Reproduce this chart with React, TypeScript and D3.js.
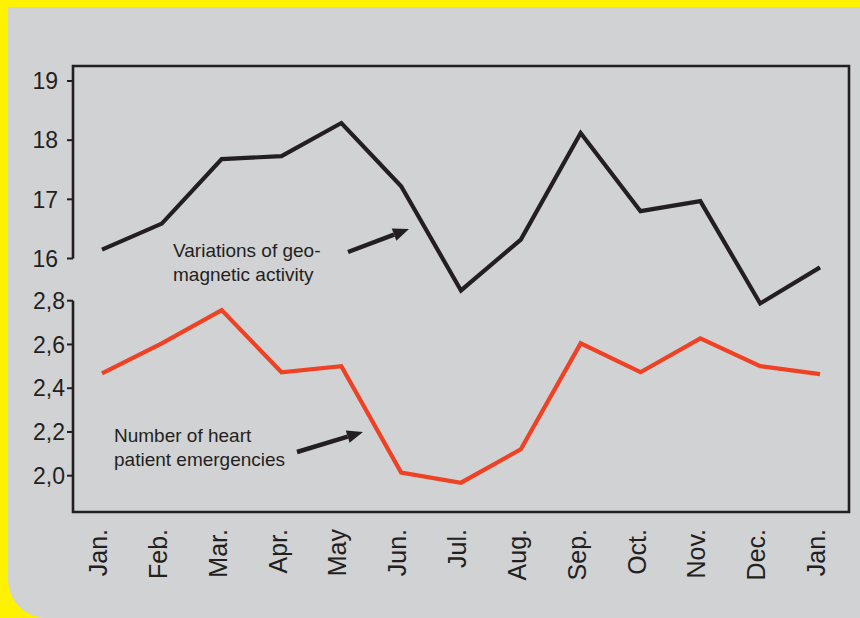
import React, { useEffect, useRef } from "react";
import * as d3 from "d3";

// Month labels along the x axis
const months = ["Jan.", "Feb.", "Mar.", "Apr.", "May", "Jun.", "Jul.", "Aug.", "Sep.", "Oct.", "Nov.", "Dec.", "Jan."];

// Geomagnetic activity (upper panel)
const geoActivity = [16.15, 16.59, 17.68, 17.73, 18.29, 17.22, 15.46, 16.32, 18.12, 16.8, 16.97, 15.24, 15.85];

// Heart patient emergencies (lower panel)
const emergencies = [2.468, 2.605, 2.757, 2.473, 2.501, 2.014, 1.968, 2.121, 2.605, 2.473, 2.628, 2.501, 2.464];

const upperTicks = [19, 18, 17, 16];
const lowerTicks = [2.8, 2.6, 2.4, 2.2, 2.0];

const FONT = "'Liberation Sans', Arial, Helvetica, sans-serif";
const INK = "#231f20";
const RED = "#ef4123";

const App = () => {
  const svgRef = useRef<SVGSVGElement>(null);

  useEffect(() => {
    const W = 860;
    const H = 618;
    const svg = d3.select(svgRef.current).attr("width", W).attr("height", H);
    svg.selectAll("*").remove();

    // Background: yellow frame with grey panel, rounded bottom-left corner
    svg.append("rect").attr("width", W).attr("height", H).attr("fill", "#fff200");
    const r = 38;
    svg
      .append("path")
      .attr("d", `M8,7 H${W} V${H} H${8 + r} A${r},${r} 0 0 1 8,${H - r} Z`)
      .attr("fill", "#d1d2d4");

    const frame = { left: 73, right: 849, top: 66, bottom: 512 };

    // Scales
    const x = d3.scaleLinear().domain([0, months.length - 1]).range([102, 820]);
    const yTop = d3.scaleLinear().domain([16, 19]).range([258.5, 81]);
    const yBottom = d3.scaleLinear().domain([2.0, 2.8]).range([475.7, 300.7]);

    // Frame: top, right, bottom and split left axis
    svg
      .append("path")
      .attr(
        "d",
        `M${frame.left},${yTop(16)} V${frame.top} H${frame.right} V${frame.bottom} H${frame.left} V${yBottom(2.8)}`
      )
      .attr("fill", "none")
      .attr("stroke", INK)
      .attr("stroke-width", 2.6)
      .attr("stroke-linejoin", "miter");

    // Upper axis ticks and labels
    const upper = svg.append("g");
    upper
      .selectAll("line")
      .data(upperTicks)
      .join("line")
      .attr("x1", frame.left - 6)
      .attr("x2", frame.left)
      .attr("y1", (d) => yTop(d))
      .attr("y2", (d) => yTop(d))
      .attr("stroke", INK)
      .attr("stroke-width", 2);
    upper
      .selectAll("text")
      .data(upperTicks)
      .join("text")
      .attr("x", frame.left - 15)
      .attr("y", (d) => yTop(d))
      .attr("dy", "0.36em")
      .attr("text-anchor", "end")
      .style("font-family", FONT)
      .style("font-size", "23px")
      .attr("fill", INK)
      .text((d) => String(d));

    // Lower axis ticks and labels
    const lower = svg.append("g");
    lower
      .selectAll("line")
      .data(lowerTicks)
      .join("line")
      .attr("x1", frame.left - 6)
      .attr("x2", frame.left)
      .attr("y1", (d) => yBottom(d))
      .attr("y2", (d) => yBottom(d))
      .attr("stroke", INK)
      .attr("stroke-width", 2);
    lower
      .selectAll("text")
      .data(lowerTicks)
      .join("text")
      .attr("x", frame.left - 8)
      .attr("y", (d) => yBottom(d))
      .attr("dy", "0.36em")
      .attr("text-anchor", "end")
      .style("font-family", FONT)
      .style("font-size", "23px")
      .attr("fill", INK)
      .text((d) => d.toFixed(1).replace(".", ","));

    // Month labels, rotated
    svg
      .append("g")
      .selectAll("text")
      .data(months)
      .join("text")
      .attr("transform", (_, i) => `translate(${x(i) - 4},529) rotate(-90)`)
      .attr("dy", "0.36em")
      .attr("text-anchor", "end")
      .style("font-family", FONT)
      .style("font-size", "25px")
      .attr("fill", INK)
      .text((d) => d);

    // Lines
    const lineTop = d3
      .line<number>()
      .x((_, i) => x(i))
      .y((d) => yTop(d));
    const lineBottom = d3
      .line<number>()
      .x((_, i) => x(i))
      .y((d) => yBottom(d));

    svg
      .append("path")
      .datum(geoActivity)
      .attr("d", lineTop)
      .attr("fill", "none")
      .attr("stroke", INK)
      .attr("stroke-width", 4.2)
      .attr("stroke-linejoin", "miter");

    svg
      .append("path")
      .datum(emergencies)
      .attr("d", lineBottom)
      .attr("fill", "none")
      .attr("stroke", RED)
      .attr("stroke-width", 4.2)
      .attr("stroke-linejoin", "miter");

    // Annotations with arrows
    const arrow = (x1: number, y1: number, x2: number, y2: number) => {
      const ang = Math.atan2(y2 - y1, x2 - x1);
      const len = 16;
      const half = 6.5;
      const bx = x2 - len * Math.cos(ang);
      const by = y2 - len * Math.sin(ang);
      svg
        .append("line")
        .attr("x1", x1)
        .attr("y1", y1)
        .attr("x2", bx)
        .attr("y2", by)
        .attr("stroke", INK)
        .attr("stroke-width", 4.5);
      svg
        .append("path")
        .attr(
          "d",
          `M${x2},${y2} L${bx - half * Math.sin(ang)},${by + half * Math.cos(ang)} L${bx + half * Math.sin(ang)},${by - half * Math.cos(ang)} Z`
        )
        .attr("fill", INK);
    };

    const note = (lines: string[], tx: number, ty: number) => {
      const t = svg
        .append("text")
        .attr("x", tx)
        .attr("y", ty)
        .style("font-family", FONT)
        .style("font-size", "19px")
        .attr("fill", INK);
      lines.forEach((l, i) => {
        t.append("tspan").attr("x", tx).attr("dy", i === 0 ? 0 : 24).text(l);
      });
    };

    note(["Variations of geo-", "magnetic activity"], 173, 257);
    arrow(348, 252, 409, 229);

    note(["Number of heart", "patient emergencies"], 114, 442);
    arrow(297, 452, 363, 432);
  }, []);

  return (
    <svg
      ref={svgRef}
      style={{ position: "absolute", left: 0, top: 0, display: "block" }}
    ></svg>
  );
};

export default App;
